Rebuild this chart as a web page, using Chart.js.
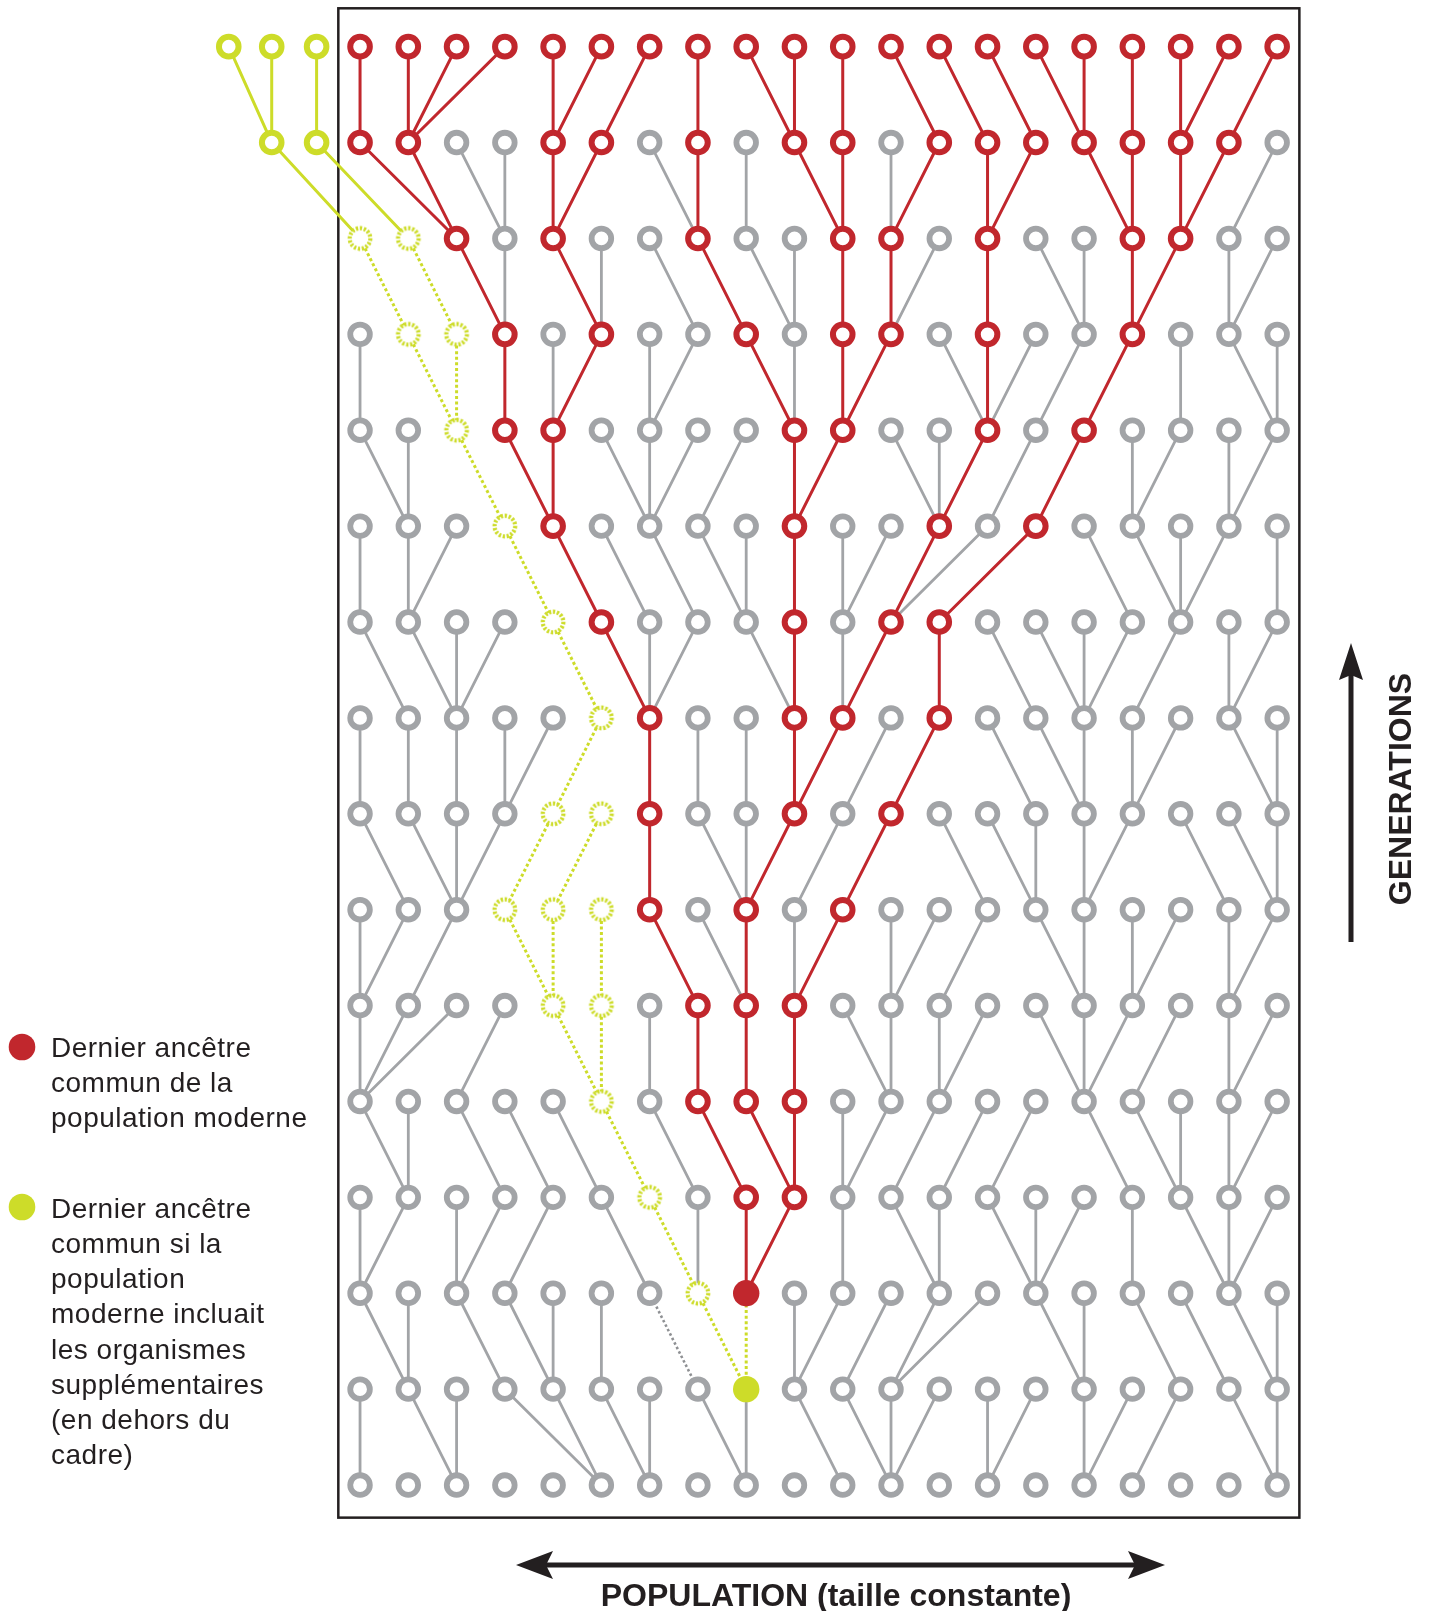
<!DOCTYPE html>
<html lang="fr">
<head>
<meta charset="utf-8">
<title>Dernier ancêtre commun</title>
<script src="https://cdn.jsdelivr.net/npm/chart.js@4.4.1/dist/chart.umd.min.js"></script>
<style>
  html, body { margin: 0; padding: 0; background: #fff; }
  #page { position: relative; width: 1429px; height: 1611px; overflow: hidden; }
  #tree, #overlay { position: absolute; left: 0; top: 0; }
  #overlay text { font-family: "Liberation Sans", Arial, Helvetica, sans-serif; fill: #231f20; }
  .legend { font-size: 28px; letter-spacing: 0.5px; }
  .axis { font-size: 32px; font-weight: bold; }
</style>
</head>
<body>
<div id="page">
  <canvas id="tree" width="1429" height="1611"></canvas>
  <svg id="overlay" width="1429" height="1611">
    <!-- legend -->
    <circle cx="22" cy="1047" r="13.3" fill="#c1272d"/>
    <text class="legend" x="51" y="1057">Dernier ancêtre</text>
    <text class="legend" x="51" y="1092">commun de la</text>
    <text class="legend" x="51" y="1127">population moderne</text>

    <circle cx="22" cy="1207" r="13.3" fill="#cddc29"/>
    <text class="legend" x="51" y="1218">Dernier ancêtre</text>
    <text class="legend" x="51" y="1253">commun si la</text>
    <text class="legend" x="51" y="1288">population</text>
    <text class="legend" x="51" y="1323">moderne incluait</text>
    <text class="legend" x="51" y="1359">les organismes</text>
    <text class="legend" x="51" y="1394">supplémentaires</text>
    <text class="legend" x="51" y="1429">(en dehors du</text>
    <text class="legend" x="51" y="1464">cadre)</text>

    <!-- population arrow -->
    <line x1="545" y1="1565" x2="1136" y2="1565" stroke="#231f20" stroke-width="5"/>
    <polygon points="516,1565 553,1551 546,1565 553,1579" fill="#231f20"/>
    <polygon points="1165,1565 1128,1551 1135,1565 1128,1579" fill="#231f20"/>
    <text class="axis" x="836" y="1606" text-anchor="middle">POPULATION (taille constante)</text>

    <!-- generations arrow -->
    <line x1="1351" y1="672" x2="1351" y2="942" stroke="#231f20" stroke-width="5"/>
    <polygon points="1351,643 1363,680 1351,675 1339,680" fill="#231f20"/>
    <text class="axis" x="0" y="0" text-anchor="middle" transform="translate(1411,789) rotate(-90)">GENERATIONS</text>
  </svg>
</div>
<script>
// rows: 0 = top (modern population) ... 15 = bottom (oldest generation)
// columns 0..19 inside the frame
const columns = [0, 1, 2, 3, 4, 5, 6, 7, 8, 9, 10, 11, 12, 13, 14, 15, 16, 17, 18, 19];
const rowCount = 16;

// parent column (in the row below) of every individual, row by row
const parentCols = [
  [0, 1, 1, 1, 4, 4, 5, 7, 9, 9, 10, 12, 13, 14, 15, 15, 16, 17, 17, 18],
  [2, 2, 3, 3, 4, 4, 7, 7, 8, 10, 10, 11, 11, 13, 13, 16, 16, 17, 17, 18],
  [1, 2, 3, 3, 5, 5, 7, 8, 9, 9, 10, 11, 11, 13, 15, 15, 16, 16, 18, 18],
  [0, 2, 2, 3, 4, 4, 6, 6, 9, 9, 10, 10, 13, 13, 13, 14, 15, 17, 19, 19],
  [1, 1, 3, 4, 4, 6, 6, 6, 7, 9, 9, 12, 12, 12, 13, 14, 16, 16, 18, 18],
  [0, 1, 1, 4, 5, 6, 7, 8, 8, 9, 10, 10, 11, 11, 12, 16, 17, 17, 17, 19],
  [1, 2, 2, 2, 5, 6, 6, 6, 9, 9, 10, 10, 12, 14, 15, 15, 15, 16, 18, 18],
  [0, 1, 2, 3, 3, 4, 6, 7, 8, 9, 9, 10, 11, 14, 15, 15, 16, 16, 19, 19],
  [1, 2, 2, 2, 3, 4, 6, 8, 8, 8, 9, 10, 13, 14, 14, 15, 15, 18, 19, 19],
  [0, 0, 1, 4, 4, 5, 7, 8, 8, 9, 9, 11, 11, 12, 15, 15, 16, 16, 18, 18],
  [0, 0, 0, 2, 5, 5, 6, 7, 8, 9, 11, 11, 12, 12, 15, 15, 15, 16, 18, 18],
  [1, 1, 3, 4, 5, 6, 7, 8, 9, 9, 10, 10, 11, 12, 13, 16, 17, 17, 18, 18],
  [0, 0, 2, 2, 3, 6, 7, 7, 8, 8, 10, 12, 12, 14, 14, 14, 16, 18, 18, 18],
  [1, 1, 3, 4, 4, 5, 7, 8, 8, 9, 9, 10, 11, 11, 15, 15, 17, 18, 19, 19],
  [0, 2, 2, 5, 5, 6, 6, 8, 8, 10, 11, 11, 11, 13, 13, 15, 15, 16, 19, 19]
];

// ancestors of the modern population (red)
const redCols = [
  [0, 1, 2, 3, 4, 5, 6, 7, 8, 9, 10, 11, 12, 13, 14, 15, 16, 17, 18, 19],
  [0, 1, 4, 5, 7, 9, 10, 12, 13, 14, 15, 16, 17, 18],
  [2, 4, 7, 10, 11, 13, 16, 17],
  [3, 5, 8, 10, 11, 13, 16],
  [3, 4, 9, 10, 13, 15],
  [4, 9, 12, 14],
  [5, 9, 11, 12],
  [6, 9, 10, 12],
  [6, 9, 11],
  [6, 8, 10],
  [7, 8, 9],
  [7, 8, 9],
  [8, 9],
  [], [], []
];

// ancestors of the extra organisms (green, dashed)
const greenCols = [
  [], [], [0, 1], [1, 2], [2], [3], [4], [5], [4, 5], [3, 4, 5], [4, 5], [5], [6], [7], [], []
];

const modernAncestor = [13, 8];    // row, column
const extendedAncestor = [14, 8];  // row, column
const dottedGrayEdge = [13, 6];    // row, column

// extra organisms outside the frame
const outsideX = [-2.72, -1.83, -0.90];
const outsideTopParents = [1, 1, 2];  // index in outsideX, row 1
const outsideMid = [1, 2];            // indices of outsideX present in row 1
const outsideMidParents = [0, 1];     // column in row 2

const RED = '#c1272d';
const GRAY = '#a2a4a7';
const GREEN = '#cddc29';

const yOf = row => rowCount - 1 - row;
const same = (a, r, c) => a[0] === r && a[1] === c;

function dashedRing(color) {
  const cv = document.createElement('canvas');
  cv.width = 30;
  cv.height = 30;
  const g = cv.getContext('2d');
  g.fillStyle = '#fff';
  g.beginPath();
  g.arc(15, 15, 10.3, 0, Math.PI * 2);
  g.fill();
  g.strokeStyle = color;
  g.lineWidth = 4.2;
  g.setLineDash([2.3, 1.7]);
  g.stroke();
  return cv;
}

// nodes
const grayNodes = [], redNodes = [], greenNodes = [], greenSolid = [];
const redFilled = [], greenFilled = [];
for (let r = 0; r < rowCount; r++) {
  columns.forEach(c => {
    const p = { x: c, y: yOf(r) };
    if (same(modernAncestor, r, c)) redFilled.push(p);
    else if (same(extendedAncestor, r, c)) greenFilled.push(p);
    else if (redCols[r].includes(c)) redNodes.push(p);
    else if (greenCols[r].includes(c)) greenNodes.push(p);
    else grayNodes.push(p);
  });
}
outsideX.forEach(x => greenSolid.push({ x: x, y: yOf(0) }));
outsideMid.forEach(i => greenSolid.push({ x: outsideX[i], y: yOf(1) }));

// edges: child -> parent, broken by a null point
const grayEdges = [], redEdges = [], greenDotted = [], greenEdges = [], grayDotted = [];
function addEdge(list, x1, y1, x2, y2) {
  list.push({ x: x1, y: y1 }, { x: x2, y: y2 }, { x: x2, y: null });
}
parentCols.forEach((parents, r) => {
  parents.forEach((p, c) => {
    let list = grayEdges;
    if (same(dottedGrayEdge, r, c)) list = grayDotted;
    else if (same(modernAncestor, r, c)) list = greenDotted;
    else if (redCols[r].includes(c)) list = redEdges;
    else if (greenCols[r].includes(c)) list = greenDotted;
    addEdge(list, c, yOf(r), p, yOf(r + 1));
  });
});
outsideTopParents.forEach((p, i) => addEdge(greenEdges, outsideX[i], yOf(0), outsideX[p], yOf(1)));
outsideMidParents.forEach((p, i) => addEdge(greenEdges, outsideX[outsideMid[i]], yOf(1), p, yOf(2)));

function edgeSet(data, color, width, dash) {
  return {
    data: data, showLine: true, borderColor: color, borderWidth: width,
    borderDash: dash || [], borderCapStyle: 'butt', pointRadius: 0,
    spanGaps: false, order: 5, clip: false
  };
}
function nodeSet(data, color, radius, width, fill, style) {
  return {
    data: data, showLine: false, pointStyle: style || 'circle',
    pointRadius: radius, pointBorderWidth: width,
    pointBorderColor: color, pointBackgroundColor: fill,
    order: 1, clip: false
  };
}

const framePlugin = {
  id: 'frame',
  beforeDatasetsDraw(chart) {
    const { ctx, scales: { x, y } } = chart;
    const left = x.getPixelForValue(-0.45), right = x.getPixelForValue(19.46);
    const top = y.getPixelForValue(15.4), bottom = y.getPixelForValue(-0.34);
    ctx.save();
    ctx.strokeStyle = '#231f20';
    ctx.lineWidth = 2.5;
    ctx.strokeRect(left, top, right - left, bottom - top);
    ctx.restore();
  }
};

new Chart(document.getElementById('tree'), {
  type: 'scatter',
  data: {
    datasets: [
      edgeSet(grayEdges, GRAY, 2.8),
      edgeSet(grayDotted, '#8e9093', 2.6, [2.5, 2.5]),
      edgeSet(redEdges, RED, 3),
      edgeSet(greenEdges, GREEN, 3),
      edgeSet(greenDotted, GREEN, 3, [3, 2.6]),
      nodeSet(grayNodes, GRAY, 9.8, 5.8, '#fff'),
      nodeSet(redNodes, RED, 9.8, 6, '#fff'),
      nodeSet(greenSolid, GREEN, 9.8, 6, '#fff'),
      nodeSet(greenNodes, GREEN, 12, 0, '#fff', dashedRing(GREEN)),
      nodeSet(redFilled, RED, 13.2, 0, RED),
      nodeSet(greenFilled, GREEN, 13.2, 0, GREEN)
    ]
  },
  options: {
    responsive: false,
    animation: false,
    events: [],
    layout: { autoPadding: false, padding: { left: 191.1, right: 127.7, top: 8.3, bottom: 97.2 } },
    plugins: { legend: { display: false }, tooltip: { enabled: false } },
    scales: {
      x: { type: 'linear', min: -3.5, max: 19.5, display: false },
      y: { type: 'linear', min: -0.3, max: 15.4, display: false }
    }
  },
  plugins: [framePlugin]
});
</script>
</body>
</html>
